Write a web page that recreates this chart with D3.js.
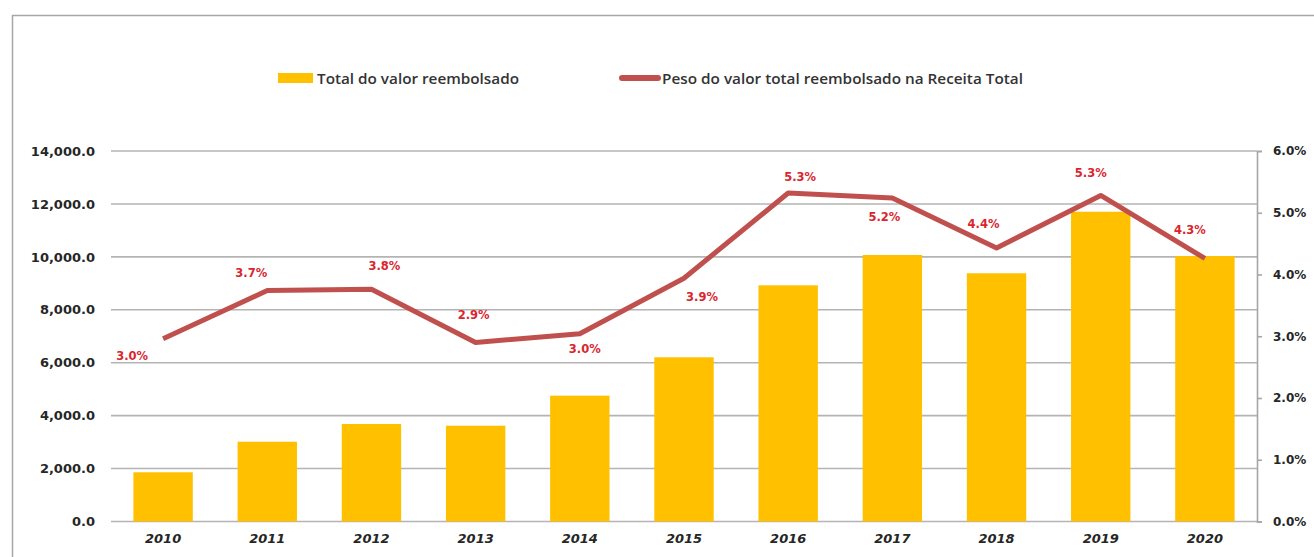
<!DOCTYPE html>
<html>
<head>
<meta charset="utf-8">
<script src="https://cdn.jsdelivr.net/npm/d3@7"></script>
<style>
  html, body { margin: 0; padding: 0; background: #fff; }
  svg { display: block; }
</style>
</head>
<body>
<svg id="chart" width="1314" height="557"></svg>
<script>
// Reimbursed totals per year and their share of total revenue
const years = ["2010","2011","2012","2013","2014","2015","2016","2017","2018","2019","2020"];
const reembolsado = [1860, 3015, 3685, 3620, 4755, 6205, 8925, 10070, 9380, 11705, 10030];
const peso = [2.96, 3.74, 3.76, 2.90, 3.04, 3.94, 5.32, 5.24, 4.43, 5.28, 4.26];
const leftTicks = [0, 2000, 4000, 6000, 8000, 10000, 12000, 14000];
const rightTicks = [0, 1, 2, 3, 4, 5, 6];
const seriesNames = ["Total do valor reembolsado", "Peso do valor total reembolsado na Receita Total"];

// Placement of each percentage label relative to its point (centre x, middle y)
const labelOffset = [[-31,17],[-16,-18],[13,-23],[-2,-27],[5,15],[18,19],[12,-16],[-8,19],[-13,-24],[-10,-22],[-15,-28]];

const svg = d3.select("#chart");
const W = 1314, H = 557;
const plot = { left: 111, right: 1257, top: 151, bottom: 521.5 };

// outer frame
svg.append("path")
  .attr("d", `M12.5,${H} V15.5 H${W}`)
  .attr("fill", "none").attr("stroke", "#a6a6a6").attr("stroke-width", 1.5);

const x = d3.scaleBand().domain(years).range([plot.left, plot.right]).paddingInner(0.43).paddingOuter(0.215);
const xc = d3.scaleBand().domain(years).range([plot.left, plot.right]);
const yL = d3.scaleLinear().domain([0, 14000]).range([plot.bottom, plot.top]);
const yR = d3.scaleLinear().domain([0, 6]).range([plot.bottom, plot.top]);

// gridlines
svg.append("g").selectAll("line").data(leftTicks).join("line")
  .attr("x1", plot.left).attr("x2", plot.right)
  .attr("y1", d => yL(d)).attr("y2", d => yL(d))
  .attr("stroke", "#b4b4b4").attr("stroke-width", 1.6);

// bars
svg.append("g").selectAll("rect").data(years).join("rect")
  .attr("x", d => x(d)).attr("width", x.bandwidth())
  .attr("y", (d, i) => yL(reembolsado[i]))
  .attr("height", (d, i) => plot.bottom - yL(reembolsado[i]))
  .attr("fill", "#ffc000");

// left axis
const axL = svg.append("g").attr("transform", `translate(${plot.left},0)`)
  .call(d3.axisLeft(yL).tickValues(leftTicks).tickSize(0).tickPadding(16)
    .tickFormat(d => d3.format(",.1f")(d)));
axL.select(".domain").remove();
axL.selectAll("text").attr("font-family", "DejaVu Sans").attr("font-weight", "bold")
  .attr("font-size", 13).attr("fill", "#262626");

// right axis
const axR = svg.append("g").attr("transform", `translate(${plot.right},0)`)
  .call(d3.axisRight(yR).tickValues(rightTicks).tickSize(5).tickPadding(11)
    .tickFormat(d => d3.format(".1f")(d) + "%"));
axR.select(".domain").attr("stroke", "#a6a6a6").attr("stroke-width", 1.6);
axR.selectAll(".tick line").attr("stroke", "#a6a6a6").attr("stroke-width", 1.6);
axR.selectAll("text").attr("font-family", "DejaVu Sans").attr("font-weight", "bold")
  .attr("font-size", 12).attr("fill", "#262626");

// category axis
const axB = svg.append("g").attr("transform", `translate(0,${plot.bottom})`)
  .call(d3.axisBottom(xc).tickSize(0).tickPadding(12));
axB.select(".domain").remove();
axB.selectAll("text").attr("font-family", "DejaVu Sans").attr("font-weight", "bold")
  .attr("font-style", "italic").attr("font-size", 13).attr("fill", "#262626");

// share line
const cx = d => xc(d) + xc.bandwidth() / 2;
const line = d3.line().x((d, i) => cx(years[i])).y(d => yR(d));
svg.append("path").datum(peso).attr("d", line)
  .attr("fill", "none").attr("stroke", "#c0504d").attr("stroke-width", 5)
  .attr("stroke-linejoin", "round");

// value labels
svg.append("g").selectAll("text").data(peso).join("text")
  .attr("x", (d, i) => cx(years[i]) + labelOffset[i][0])
  .attr("y", (d, i) => yR(d) + labelOffset[i][1])
  .attr("text-anchor", "middle").attr("dominant-baseline", "central")
  .attr("font-family", "DejaVu Sans").attr("font-weight", "bold").attr("font-size", 11.5)
  .attr("fill", "#d9262e")
  .text(d => d3.format(".1f")(d) + "%");

// legend
const lg = svg.append("g").attr("font-family", "Open Sans").attr("font-weight", 600)
  .attr("font-size", 15).attr("fill", "#333");
lg.append("rect").attr("x", 278).attr("y", 73).attr("width", 35).attr("height", 10).attr("fill", "#ffc000");
lg.append("text").attr("x", 317).attr("y", 78).attr("dominant-baseline", "central")
  .attr("textLength", 202).attr("lengthAdjust", "spacingAndGlyphs").text(seriesNames[0]);
lg.append("line").attr("x1", 622).attr("x2", 658).attr("y1", 78).attr("y2", 78)
  .attr("stroke", "#c0504d").attr("stroke-width", 6).attr("stroke-linecap", "round");
lg.append("text").attr("x", 662).attr("y", 78).attr("dominant-baseline", "central")
  .attr("textLength", 361).attr("lengthAdjust", "spacingAndGlyphs").text(seriesNames[1]);
</script>
</body>
</html>
